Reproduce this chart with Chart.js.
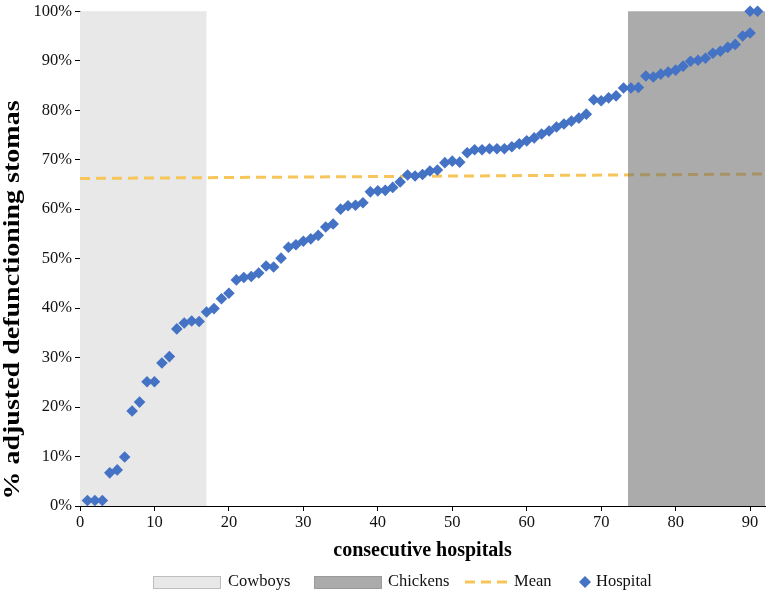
<!DOCTYPE html>
<html>
<head>
<meta charset="utf-8">
<script src="https://cdn.jsdelivr.net/npm/chart.js@4.4.1/dist/chart.umd.min.js"></script>
<style>
  html, body { margin: 0; padding: 0; background: #fff; }
  #wrap { width: 767px; height: 594px; }
</style>
</head>
<body>
<div id="wrap"><canvas id="chart"></canvas></div>
<script>
// --------------------------------Data-------------------------- //
const hospitalX = [1, 2, 3, 4, 5, 6, 7, 8, 9, 10, 11, 12, 13, 14, 15, 16, 17, 18, 19, 20,
    21, 22, 23, 24, 25, 26, 27, 28, 29, 30, 31, 32, 33, 34, 35, 36, 37, 38, 39, 40,
    41, 42, 43, 44, 45, 46, 47, 48, 49, 50, 51, 52, 53, 54, 55, 56, 57, 58, 59, 60,
    61, 62, 63, 64, 65, 66, 67, 68, 69, 70, 71, 72, 73, 74, 75, 76, 77, 78, 79, 80,
    81, 82, 83, 84, 85, 86, 87, 88, 89, 90, 90, 91];
const hospitalY = [1.1, 1.1, 1.1, 6.7, 7.3, 9.9, 19.2, 21.0, 25.1, 25.1, 28.9, 30.2, 35.8, 37.0, 37.4, 37.3, 39.2, 39.9, 41.9, 43.0,
    45.7, 46.2, 46.4, 47.1, 48.5, 48.3, 50.1, 52.3, 52.8, 53.5, 54.0, 54.7, 56.4, 57.0, 60.0, 60.7, 60.8, 61.3, 63.5, 63.7,
    63.8, 64.4, 65.5, 66.9, 66.7, 67.0, 67.7, 67.9, 69.4, 69.7, 69.5, 71.4, 72.0, 72.0, 72.2, 72.2, 72.2, 72.6, 73.2, 73.8,
    74.4, 75.2, 75.8, 76.6, 77.2, 77.8, 78.4, 79.2, 82.1, 81.9, 82.5, 82.9, 84.5, 84.5, 84.6, 86.9, 86.7, 87.3, 87.7, 88.1,
    88.9, 89.9, 90.1, 90.5, 91.5, 91.9, 92.7, 93.3, 95.0, 95.6, 100, 100];
const meanX = [0, 92];
const meanY = [66.2, 67.1];
const cowboysRange = [0, 17];
const chickensRange = [73.6, 92];
const xTicks = [0, 10, 20, 30, 40, 50, 60, 70, 80, 90];
const yTicks = [0, 10, 20, 30, 40, 50, 60, 70, 80, 90, 100];
const legendLabels = ['Cowboys', 'Chickens', 'Mean', 'Hospital'];
const yTitle = '% adjusted defunctioning stomas';

// --------------------------------Colours-------------------------- //
const blue = '#4472C4';
const gold = '#F7C55A';
const cowboysFill = '#E8E8E8';
const chickensFill = 'rgba(110, 110, 110, 0.58)';
const serif = "'Liberation Serif', 'Times New Roman', serif";

Chart.defaults.font.family = serif;
Chart.defaults.color = '#111';

// shaded bands: Cowboys under everything, Chickens over the mean line but under the points
const bandsPlugin = {
    id: 'bands',
    beforeDatasetsDraw(chart) {
        const { ctx, chartArea, scales: { x } } = chart;
        ctx.save();
        ctx.fillStyle = cowboysFill;
        const x0 = x.getPixelForValue(cowboysRange[0]);
        const x1 = x.getPixelForValue(cowboysRange[1]);
        ctx.fillRect(x0, chartArea.top, x1 - x0, chartArea.bottom - chartArea.top);
        ctx.restore();
    },
    afterDatasetDraw(chart, args) {
        if (args.index !== 1) return;
        const { ctx, chartArea, scales: { x } } = chart;
        ctx.save();
        ctx.fillStyle = chickensFill;
        const x0 = x.getPixelForValue(chickensRange[0]);
        const x1 = x.getPixelForValue(chickensRange[1]);
        ctx.fillRect(x0, chartArea.top, x1 - x0, chartArea.bottom - chartArea.top);
        ctx.restore();
    }
};

// y title drawn by hand: it is a bit larger and sits lower than the axis centre
const yTitlePlugin = {
    id: 'yTitle',
    afterDraw(chart) {
        const ctx = chart.ctx;
        ctx.save();
        ctx.translate(13, 300);
        ctx.rotate(-Math.PI / 2);
        ctx.scale(1, 0.85);
        ctx.font = 'bold 28px ' + serif;
        ctx.fillStyle = '#000';
        ctx.textAlign = 'center';
        ctx.textBaseline = 'middle';
        ctx.fillText(yTitle, 0, 0);
        ctx.restore();
    }
};

// legend drawn by hand since the items have different marker shapes/widths
const legendPlugin = {
    id: 'customLegend',
    afterDraw(chart) {
        const ctx = chart.ctx;
        const cy = 582;
        ctx.save();
        ctx.font = '16.5px ' + serif;
        ctx.fillStyle = '#111';
        ctx.textBaseline = 'middle';

        // Cowboys
        ctx.fillStyle = cowboysFill;
        ctx.fillRect(153, cy - 6, 68, 13);
        ctx.strokeStyle = '#BDBDBD';
        ctx.lineWidth = 1;
        ctx.strokeRect(153.5, cy - 5.5, 67, 12);
        ctx.fillStyle = '#111';
        ctx.fillText(legendLabels[0], 228, cy);

        // Chickens
        ctx.fillStyle = '#ABABAB';
        ctx.fillRect(314, cy - 6, 68, 13);
        ctx.strokeStyle = '#9A9A9A';
        ctx.strokeRect(314.5, cy - 5.5, 67, 12);
        ctx.fillStyle = '#111';
        ctx.fillText(legendLabels[1], 388, cy);

        // Mean
        ctx.strokeStyle = gold;
        ctx.lineWidth = 3;
        ctx.setLineDash([10, 6]);
        ctx.beginPath();
        ctx.moveTo(465, cy);
        ctx.lineTo(507, cy);
        ctx.stroke();
        ctx.setLineDash([]);
        ctx.fillText(legendLabels[2], 514, cy);

        // Hospital
        ctx.fillStyle = blue;
        ctx.beginPath();
        ctx.moveTo(585, cy - 6);
        ctx.lineTo(591, cy);
        ctx.lineTo(585, cy + 6);
        ctx.lineTo(579, cy);
        ctx.closePath();
        ctx.fill();
        ctx.fillStyle = '#111';
        ctx.fillText(legendLabels[3], 596, cy);
        ctx.restore();
    }
};

const ctx = document.getElementById('chart').getContext('2d');

const hospitalChart = new Chart(ctx, {
    type: 'scatter',
    data: {
        datasets: [{
            label: legendLabels[3],
            data: hospitalX.map((v, i) => ({ x: v, y: hospitalY[i] })),
            pointStyle: 'rectRot',
            pointRadius: 5.8,
            pointHoverRadius: 5.8,
            backgroundColor: blue,
            borderWidth: 0,
            clip: false
        }, {
            label: legendLabels[2],
            type: 'line',
            data: meanX.map((v, i) => ({ x: v, y: meanY[i] })),
            borderColor: gold,
            borderWidth: 3,
            borderDash: [10, 6],
            pointRadius: 0,
            fill: false
        }]
    },
    options: {
        responsive: true,
        maintainAspectRatio: false,
        animation: false,
        events: [],
        layout: { autoPadding: false, padding: { top: 10, right: 2, bottom: 0, left: 0 } },
        plugins: {
            legend: { display: false },
            tooltip: { enabled: false }
        },
        scales: {
            x: {
                type: 'linear',
                min: 0,
                max: 92,
                afterBuildTicks: axis => { axis.ticks = xTicks.map(v => ({ value: v })); },
                afterFit: scale => { scale.height = 88; },
                ticks: { font: { size: 16.5 }, color: '#111', padding: 2, maxRotation: 0 },
                grid: { drawOnChartArea: false, color: '#000', tickLength: 5 },
                border: { color: '#000', width: 1 },
                title: {
                    display: true,
                    text: 'consecutive hospitals',
                    font: { size: 20, weight: 'bold' },
                    color: '#000',
                    padding: { top: 0, bottom: 31 }
                }
            },
            y: {
                min: 0,
                max: 100,
                afterBuildTicks: axis => { axis.ticks = yTicks.map(v => ({ value: v })); },
                afterFit: scale => { scale.width = 80; },
                ticks: { font: { size: 16.5, lineHeight: 1 }, color: '#111', padding: 3, callback: v => v + '%' },
                grid: { drawOnChartArea: false, color: '#000', tickLength: 5 },
                border: { color: '#000', width: 1 },
                title: { display: false }
            }
        }
    },
    plugins: [bandsPlugin, yTitlePlugin, legendPlugin]
});
</script>
</body>
</html>
